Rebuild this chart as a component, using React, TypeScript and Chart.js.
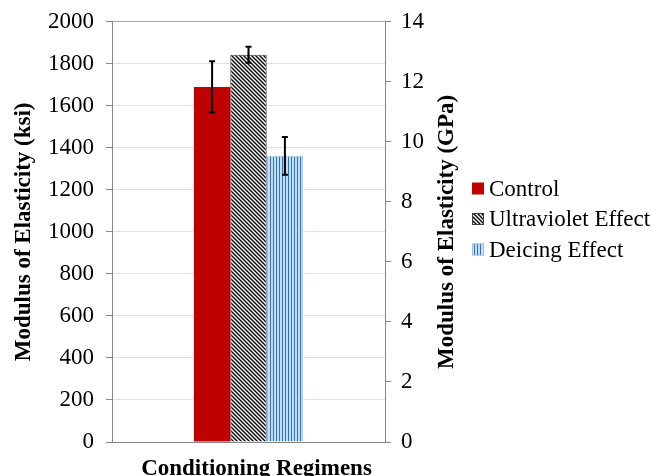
import React, { useEffect, useRef } from "react";
import { Chart, registerables } from "chart.js";

Chart.register(...registerables);

const categories = [""];
const seriesNames = ["Control", "Ultraviolet Effect", "Deicing Effect"];
const controlValues = [1690];
const uvValues = [1843];
const deicingValues = [1362];
const controlErrors = [122];
const uvErrors = [38];
const deicingErrors = [90];
const leftTicks = [0, 200, 400, 600, 800, 1000, 1200, 1400, 1600, 1800, 2000];
const rightTicks = [0, 2, 4, 6, 8, 10, 12, 14];
const xTitle = "Conditioning Regimens";
const leftTitle = "Modulus of Elasticity (ksi)";
const rightTitle = "Modulus of Elasticity (GPa)";

const FONT = "'Liberation Serif', 'Times New Roman', serif";

function makeDiagonal(): CanvasPattern | string {
  const c = document.createElement("canvas");
  c.width = 4;
  c.height = 4;
  const g = c.getContext("2d");
  if (!g) return "#000";
  g.fillStyle = "#ffffff";
  g.fillRect(0, 0, 4, 4);
  g.strokeStyle = "#000000";
  g.lineWidth = 1.4;
  g.beginPath();
  g.moveTo(-1, -1);
  g.lineTo(5, 5);
  g.moveTo(-1, 3);
  g.lineTo(1, 5);
  g.moveTo(3, -1);
  g.lineTo(5, 1);
  g.stroke();
  return g.createPattern(c, "repeat") as CanvasPattern;
}

function makeVertical(): CanvasPattern | string {
  const c = document.createElement("canvas");
  c.width = 3;
  c.height = 3;
  const g = c.getContext("2d");
  if (!g) return "#5b9bd5";
  g.fillStyle = "#c3def5";
  g.fillRect(0, 0, 3, 3);
  g.fillStyle = "#2e75b6";
  g.fillRect(0, 0, 1, 3);
  return g.createPattern(c, "repeat") as CanvasPattern;
}

const errorBarPlugin = {
  id: "errorBars",
  afterDatasetsDraw(chart: any) {
    const ctx = chart.ctx;
    const yScale = chart.scales.y;
    chart.data.datasets.forEach((ds: any, i: number) => {
      const meta = chart.getDatasetMeta(i);
      const errs: number[] = ds.errors || [];
      meta.data.forEach((el: any, j: number) => {
        const v = ds.data[j];
        const e = errs[j];
        if (e == null) return;
        const x = el.x;
        const yTop = yScale.getPixelForValue(v + e);
        const yBot = yScale.getPixelForValue(v - e);
        ctx.save();
        ctx.strokeStyle = "#000";
        ctx.lineWidth = 2;
        ctx.beginPath();
        ctx.moveTo(x, yTop);
        ctx.lineTo(x, yBot);
        ctx.moveTo(x - 3, yTop);
        ctx.lineTo(x + 3, yTop);
        ctx.moveTo(x - 3, yBot);
        ctx.lineTo(x + 3, yBot);
        ctx.stroke();
        ctx.restore();
      });
    });
  },
};

// Axis titles not expressible with built-in options, and legend on the right
const sideDecorPlugin = {
  id: "sideDecor",
  afterDraw(chart: any) {
    const ctx = chart.ctx;
    const area = chart.chartArea;
    const y1 = chart.scales.y1;
    ctx.save();
    ctx.font = `bold 23px ${FONT}`;
    ctx.fillStyle = "#000";
    ctx.textAlign = "center";
    ctx.textBaseline = "alphabetic";
    // x title (slightly right of centre, as in the reference)
    ctx.fillText(xTitle, (area.left + area.right) / 2 + 8, 475);
    // right title, reading bottom-to-top
    ctx.textBaseline = "middle";
    ctx.translate(y1.right - 18, (area.top + area.bottom) / 2);
    ctx.rotate(-Math.PI / 2);
    ctx.fillText(rightTitle, 0, 0);
    ctx.restore();

    // legend
    ctx.save();
    const boxX = y1.right + 7;
    const rowH = 30.5;
    const firstY = 188.5;
    ctx.font = `23px ${FONT}`;
    ctx.textAlign = "left";
    ctx.textBaseline = "middle";
    chart.data.datasets.forEach((ds: any, i: number) => {
      const cy = firstY + i * rowH;
      ctx.fillStyle = ds.backgroundColor;
      ctx.fillRect(boxX, cy - 6, 12, 12);
      if (ds.borderWidth) {
        ctx.strokeStyle = ds.borderColor;
        ctx.lineWidth = 1;
        ctx.strokeRect(boxX + 0.5, cy - 5.5, 11, 11);
      }
      ctx.fillStyle = "#000";
      ctx.fillText(ds.label, boxX + 17, cy + 1);
    });
    ctx.restore();
  },
};

export default function App() {
  const ref = useRef<HTMLCanvasElement>(null);

  useEffect(() => {
    if (!ref.current) return;
    const diag = makeDiagonal();
    const vert = makeVertical();
    const chart = new Chart(ref.current, {
      type: "bar",
      data: {
        labels: categories,
        datasets: [
          {
            label: seriesNames[0],
            data: controlValues,
            errors: controlErrors,
            backgroundColor: "#c00000",
            borderColor: "#c00000",
            borderWidth: 0,
          } as any,
          {
            label: seriesNames[1],
            data: uvValues,
            errors: uvErrors,
            backgroundColor: diag,
            borderColor: "#404040",
            borderWidth: 1,
          } as any,
          {
            label: seriesNames[2],
            data: deicingValues,
            errors: deicingErrors,
            backgroundColor: vert,
            borderColor: "#9dc3e6",
            borderWidth: 1,
          } as any,
        ],
      },
      options: {
        responsive: false,
        animation: false,
        layout: { padding: { top: 10, right: 205, bottom: 0, left: 0 } },
        datasets: {
          bar: { categoryPercentage: 0.4, barPercentage: 1.0 },
        },
        plugins: {
          tooltip: { enabled: false },
          legend: { display: false },
        },
        scales: {
          x: {
            ticks: { display: false },
            grid: { display: false },
            border: { display: true, color: "#868686", width: 1 },
            title: { display: false },
            afterFit(s: any) {
              s.height = 34;
            },
          },
          y: {
            position: "left",
            min: 0,
            max: 2000,
            afterBuildTicks(s: any) {
              s.ticks = leftTicks.map((v) => ({ value: v }));
            },
            ticks: {
              color: "#000",
              font: { family: FONT, size: 23, lineHeight: 0.85 },
              padding: 12,
              callback: (v: any) => String(v),
            },
            grid: {
              color: (c: any) => (c.tick && c.tick.value === 2000 ? "#a6a6a6" : "#e0e0e0"),
              tickColor: "#868686",
              tickLength: 6,
            },
            border: { display: true, color: "#868686", width: 1 },
            title: {
              display: true,
              text: leftTitle,
              color: "#000",
              font: { family: FONT, size: 23, weight: "bold" },
              padding: { top: 10, bottom: 0 },
            },
            afterFit(s: any) {
              s.width = 112;
            },
          },
          y1: {
            position: "right",
            min: 0,
            max: 14,
            afterBuildTicks(s: any) {
              s.ticks = rightTicks.map((v) => ({ value: v }));
            },
            ticks: {
              color: "#000",
              font: { family: FONT, size: 23, lineHeight: 0.85 },
              padding: 10,
              callback: (v: any) => String(v),
            },
            grid: {
              drawOnChartArea: false,
              color: "#868686",
              tickColor: "#868686",
              tickLength: 6,
            },
            border: { display: true, color: "#868686", width: 1 },
            title: { display: false },
            afterFit(s: any) {
              s.width = 80;
            },
          },
        },
      } as any,
      plugins: [errorBarPlugin, sideDecorPlugin],
    });
    return () => chart.destroy();
  }, []);

  return (
    <div style={{ position: "absolute", left: 0, top: 0, width: 670, height: 476 }}>
      <canvas ref={ref} width={670} height={476} />
    </div>
  );
}
